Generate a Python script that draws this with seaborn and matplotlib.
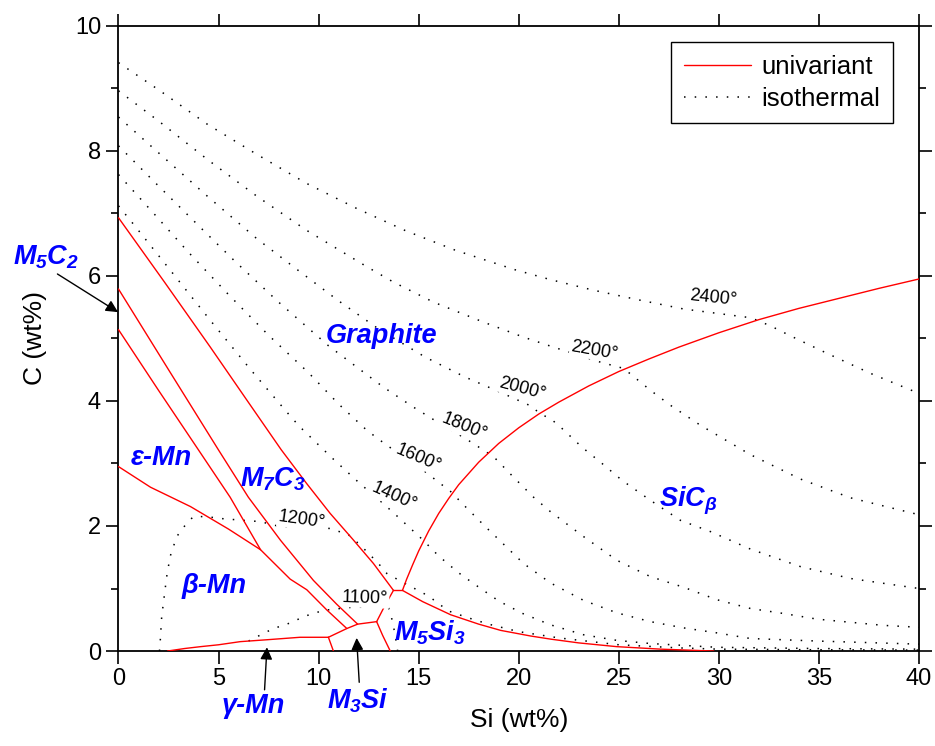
import matplotlib
matplotlib.use("Agg")
import matplotlib.pyplot as plt
import seaborn as sns
from matplotlib.lines import Line2D
from matplotlib.ticker import MultipleLocator

# ---------------- univariant lines (red) ----------------
l1_x = [0, 2.3, 4.59, 6.4, 8.13, 9.4, 10.58, 11.7, 12.74, 13.74]
l1_y = [6.93, 5.9, 4.86, 4.02, 3.22, 2.68, 2.20, 1.79, 1.40, 0.97]
l2_x = [0, 2.5, 4.99, 6.49, 8.1, 9.74, 10.9, 11.95]
l2_y = [5.79, 4.50, 3.22, 2.46, 1.77, 1.13, 0.75, 0.43]
la_x = [0, 2.0, 3.99, 5.58, 7.1, 8.58, 9.41, 10.4, 11.41]
la_y = [5.14, 4.17, 3.22, 2.46, 1.62, 1.15, 0.98, 0.66, 0.36]
l3_x = [0, 1.6, 3.6, 5.5, 7.1]
l3_y = [2.95, 2.62, 2.31, 1.95, 1.62]
gam_x = [2.45, 3.3, 4.1, 5.0, 6.08, 7.4, 9.07, 10.49]
gam_y = [0.0, 0.04, 0.07, 0.10, 0.15, 0.18, 0.22, 0.22]
p5d_x = [10.49, 10.74]
p5d_y = [0.22, 0.0]
p5p3_x = [10.49, 11.41, 11.95, 12.9]
p5p3_y = [0.22, 0.36, 0.43, 0.47]
p3p1_x = [12.9, 13.3, 13.74]
p3p1_y = [0.47, 0.72, 0.97]
p3d_x = [12.9, 13.2, 13.58]
p3d_y = [0.47, 0.25, 0.0]
p1p2_x = [13.74, 14.19]
p1p2_y = [0.97, 0.97]
grsic_x = [14.19, 14.4, 14.7, 15.0, 15.5, 16.0, 16.5, 17.0, 18.0, 19.0, 20.0, 21.0, 22.0, 23.5, 25.0,
           26.5, 28.0, 30.0, 32.0, 34.0, 36.0, 38.0, 40.0]
grsic_y = [0.97, 1.15, 1.38, 1.6, 1.92, 2.2, 2.44, 2.66, 3.02, 3.32, 3.57, 3.79, 3.98, 4.24, 4.47,
           4.67, 4.86, 5.09, 5.3, 5.48, 5.64, 5.8, 5.95]
sicm5_x = [14.19, 15.2, 16.6, 18.0, 19.1, 20.6, 21.6, 23.0, 24.9, 27.1, 29.75]
sicm5_y = [0.97, 0.79, 0.58, 0.43, 0.33, 0.24, 0.19, 0.13, 0.07, 0.03, 0.0]

# ---------------- isotherms (dotted) ----------------
t2400_x = [0, 2.03, 4.46, 6.93, 9.39, 11.89, 14.36, 16.83, 19.79, 21.58, 23.74, 26.08, 28.24, 31.6, 32.58, 33.58, 35.41, 37.58, 40.0]
t2400_y = [9.41, 8.97, 8.42, 7.94, 7.48, 7.08, 6.72, 6.41, 6.10, 5.94, 5.77, 5.61, 5.47, 5.33, 5.2, 5.04, 4.76, 4.44, 4.12]
t2200_x = [0, 2.03, 4.49, 6.93, 9.39, 12.39, 13.74, 15.74, 18.24, 20.24, 21.74, 24.08, 25.24, 26.58, 27.58, 29.08, 31.58, 34.08, 36.58, 40.0]
t2200_y = [8.96, 8.47, 7.85, 7.27, 6.73, 6.15, 5.90, 5.58, 5.26, 5.02, 4.86, 4.62, 4.52, 4.17, 3.93, 3.61, 3.14, 2.75, 2.45, 2.18]
t2000_x = [0, 2.03, 4.49, 6.93, 8.93, 11.0, 13.0, 15.33, 17.33, 19.0, 20.74, 21.0, 21.58, 22.16, 23.16, 24.16, 25.16, 26.58, 28.08, 29.58, 31.58, 34.08, 36.58, 40.0]
t2000_y = [8.54, 7.96, 7.26, 6.59, 6.10, 5.6, 5.15, 4.70, 4.38, 4.15, 3.90, 3.80, 3.72, 3.56, 3.26, 3.0, 2.73, 2.41, 2.09, 1.91, 1.63, 1.35, 1.16, 1.0]
t1800_x = [0, 1.93, 4.36, 5.83, 8.0, 10.5, 13.24, 14.74, 16.0, 17.33, 18.4, 18.83, 19.74, 20.74, 21.58, 23.24, 24.91, 26.58, 28.24, 29.91, 31.58, 33.24, 34.91, 36.58, 38.24, 40.0]
t1800_y = [8.08, 7.46, 6.69, 6.23, 5.58, 4.88, 4.22, 3.90, 3.65, 3.40, 3.18, 3.08, 2.78, 2.46, 2.23, 1.83, 1.45, 1.19, 1.02, 0.82, 0.68, 0.60, 0.51, 0.46, 0.41, 0.38]
t1600_x = [0, 1.73, 3.46, 5.5, 7.5, 9.5, 11.0, 12.41, 13.41, 14.99, 16.6, 17.33, 18.33, 20.24, 21.58, 23.24, 24.91, 26.58, 28.24, 29.91, 31.58, 34.91, 40.0]
t1600_y = [7.62, 7.01, 6.39, 5.70, 5.05, 4.45, 3.95, 3.53, 3.29, 2.95, 2.55, 2.31, 1.99, 1.40, 1.09, 0.81, 0.61, 0.47, 0.37, 0.29, 0.20, 0.16, 0.11]
t1400_x = [0, 0.74, 2.69, 4.61, 6.63, 8.71, 9.21, 10.7, 12.16, 12.66, 13.78, 15.2, 16.0, 17.0, 17.74, 19.0, 20.2, 21.58, 23.24, 24.91, 26.58, 29.9, 34.9, 40.0]
t1400_y = [7.12, 6.83, 6.05, 5.28, 4.49, 3.71, 3.54, 3.08, 2.65, 2.52, 2.2, 1.78, 1.52, 1.25, 1.08, 0.80, 0.60, 0.42, 0.26, 0.17, 0.12, 0.06, 0.04, 0.03]
t1200_x = [2.05, 2.08, 2.16, 2.41, 2.58, 2.91, 3.33, 3.74, 4.41, 5.08, 6.24, 7.08, 8.08, 9.16, 10.58, 11.49, 11.99, 12.41, 12.99, 13.41, 14.2, 14.91, 15.49, 16.49, 17.49, 18.49, 20.0, 22.0, 25.0, 28.0, 30.0, 35.0, 40.0]
t1200_y = [0.0, 0.12, 0.55, 1.19, 1.51, 1.83, 2.01, 2.15, 2.15, 2.12, 2.09, 2.07, 1.99, 1.98, 1.96, 1.86, 1.72, 1.59, 1.40, 1.24, 1.1, 0.98, 0.88, 0.64, 0.53, 0.43, 0.31, 0.21, 0.10, 0.05, 0.03, 0.02, 0.015]
t1100_x = [6.5, 7.24, 7.74, 8.33, 8.74, 9.24, 9.74, 10.24, 11.07, 11.66, 12.16, 12.9, 13.41, 13.6, 13.8, 13.95]
t1100_y = [0.16, 0.28, 0.36, 0.42, 0.47, 0.55, 0.60, 0.65, 0.68, 0.70, 0.70, 0.73, 0.76, 0.6, 0.3, 0.0]

# isotherm labels: text, x, y, rotation
iso_text = ["2400°", "2200°", "2000°", "1800°", "1600°", "1400°", "1200°", "1100°"]
iso_lx = [29.74, 23.78, 20.16, 17.28, 14.99, 13.78, 9.16, 12.33]
iso_ly = [5.65, 4.81, 4.20, 3.59, 3.08, 2.47, 2.09, 0.84]
iso_rot = [-6, -10, -15, -22, -23, -24, -8, -2]

# phase field labels
phase_text = ["Graphite", "ε-Mn", r"$M_7C_3$", "β-Mn", r"$M_5Si_3$", r"$SiC_\beta$"]
phase_x = [13.16, 2.12, 7.7, 4.78, 15.55, 28.45]
phase_y = [5.04, 3.09, 2.75, 1.04, 0.30, 2.40]

# ---------------- styling ----------------
sns.set_style("ticks")
plt.rcParams['font.family'] = ['Liberation Sans', 'DejaVu Sans']
plt.rcParams['mathtext.fontset'] = 'custom'
plt.rcParams['mathtext.it'] = 'Liberation Sans:bold:italic'
plt.rcParams['mathtext.rm'] = 'Liberation Sans:bold:italic'
plt.rcParams['mathtext.bf'] = 'Liberation Sans:bold:italic'
plt.rcParams['mathtext.sf'] = 'Liberation Sans:bold:italic'
plt.rcParams['text.color'] = 'black'
plt.rcParams['axes.labelcolor'] = 'black'
plt.rcParams['xtick.color'] = 'black'
plt.rcParams['ytick.color'] = 'black'

fig = plt.figure(figsize=(9.35, 7.46), dpi=100)
ax = fig.add_axes([0.1267, 0.1273, 0.8562, 0.8382])

univ = [(l1_x, l1_y), (l2_x, l2_y), (la_x, la_y), (l3_x, l3_y), (gam_x, gam_y),
        (p5d_x, p5d_y), (p5p3_x, p5p3_y), (p3p1_x, p3p1_y), (p3d_x, p3d_y),
        (p1p2_x, p1p2_y), (grsic_x, grsic_y), (sicm5_x, sicm5_y)]
isos = [(t2400_x, t2400_y), (t2200_x, t2200_y), (t2000_x, t2000_y), (t1800_x, t1800_y),
        (t1600_x, t1600_y), (t1400_x, t1400_y), (t1200_x, t1200_y), (t1100_x, t1100_y)]

dot_style = (0, (1, 6))
for xs, ys in isos:
    sns.lineplot(x=xs, y=ys, sort=False, estimator=None, color='black', lw=1.1,
                 linestyle=dot_style, ax=ax, legend=False, zorder=2)
for xs, ys in univ:
    sns.lineplot(x=xs, y=ys, sort=False, estimator=None, color='#ff0000', lw=1.0,
                 ax=ax, legend=False, zorder=3)

for t, x, y, r in zip(iso_text, iso_lx, iso_ly, iso_rot):
    ax.text(x, y, t, fontsize=13, rotation=r, rotation_mode='anchor', ha='center', va='center',
            color='black', zorder=4,
            bbox=dict(boxstyle='square,pad=0.05', fc='white', ec='none'))

for t, x, y in zip(phase_text, phase_x, phase_y):
    ax.text(x, y, t, fontsize=19.5, fontweight='bold', fontstyle='italic', color='#0000ff',
            ha='center', va='center', zorder=5)

# labels outside the plot with arrows
lab_kw = dict(fontsize=19.5, fontweight='bold', fontstyle='italic', color='#0000ff',
              ha='center', va='center', zorder=5, clip_on=False)
ax.text(-3.6, 6.3, r"$M_5C_2$", **lab_kw)
ax.text(6.75, -0.88, "γ-Mn", **lab_kw)
ax.text(11.98, -0.80, r"$M_3Si$", **lab_kw)
arr = dict(arrowstyle='-|>', color='black', lw=1.0, mutation_scale=18, shrinkA=0, shrinkB=0)
ax.annotate('', xy=(-0.02, 5.42), xytext=(-3.05, 6.03), arrowprops=arr, annotation_clip=False)
ax.annotate('', xy=(7.42, 0.06), xytext=(7.3, -0.62), arrowprops=arr, annotation_clip=False)
ax.annotate('', xy=(11.9, 0.21), xytext=(12.03, -0.5), arrowprops=arr, annotation_clip=False)

ax.set_xlim(0, 40)
ax.set_ylim(0, 10)
ax.set_xticks(range(0, 41, 5))
ax.set_yticks(range(0, 11, 2))
ax.yaxis.set_minor_locator(MultipleLocator(1))
ax.tick_params(which='both', direction='out', top=True, right=True, labeltop=False, labelright=False,
               labelsize=17, width=1.2, color='black', labelcolor='black')
ax.tick_params(which='major', length=9)
ax.tick_params(which='minor', length=5)
for s in ax.spines.values():
    s.set_linewidth(1.3)
    s.set_color('black')
    s.set_visible(True)
ax.set_xlabel("Si (wt%)", fontsize=19, labelpad=13, color='black')
ax.set_ylabel("C (wt%)", fontsize=19, labelpad=20, color='black')

handles = [Line2D([], [], color='#ff0000', lw=1.0, label='univariant'),
           Line2D([], [], color='black', lw=1.1, linestyle=dot_style, label='isothermal')]
leg = ax.legend(handles=handles, loc='upper right', bbox_to_anchor=(0.9675, 0.974), fontsize=18.5,
                frameon=True, fancybox=False, edgecolor='black', framealpha=1, handlelength=2.6,
                borderpad=0.5, labelspacing=0.3, handletextpad=0.4, borderaxespad=0)
leg.get_frame().set_linewidth(1.0)

fig.savefig("out.png", dpi=100)
